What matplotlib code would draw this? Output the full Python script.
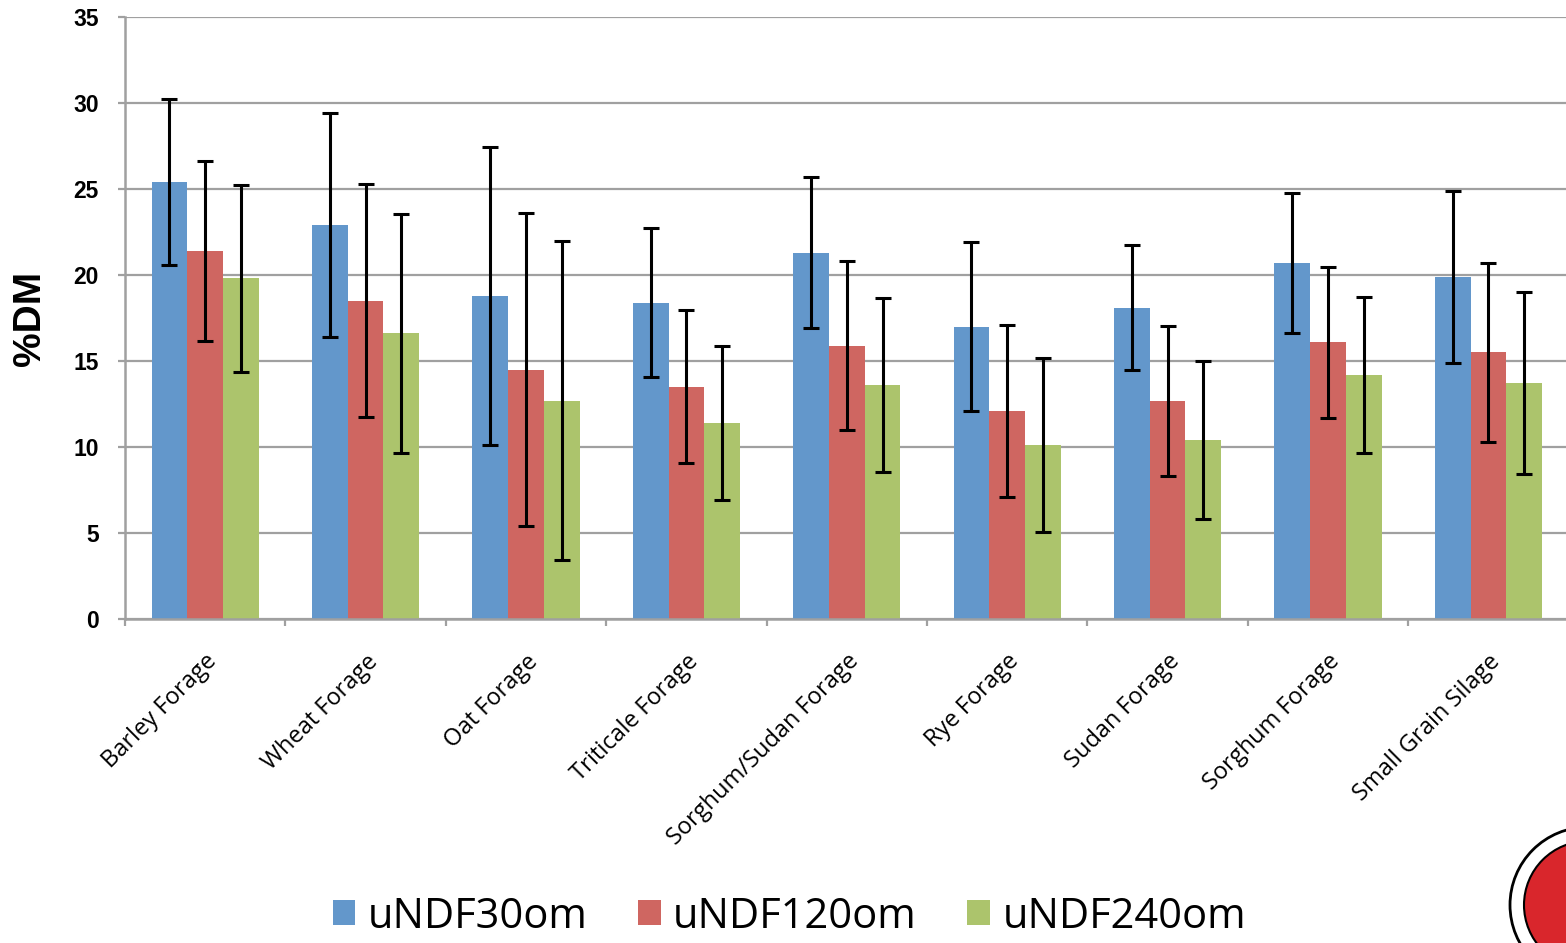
import matplotlib
matplotlib.use("Agg")
import matplotlib.pyplot as plt
import numpy as np
from matplotlib.patches import Patch, Ellipse

categories = ["Barley Forage", "Wheat Forage", "Oat Forage", "Triticale Forage",
              "Sorghum/Sudan Forage", "Rye Forage", "Sudan Forage",
              "Sorghum Forage", "Small Grain Silage"]
series_names = ["uNDF30om", "uNDF120om", "uNDF240om"]
undf30 = [25.4, 22.9, 18.8, 18.4, 21.3, 17.0, 18.1, 20.7, 19.9]
undf120 = [21.4, 18.5, 14.5, 13.5, 15.9, 12.1, 12.7, 16.1, 15.5]
undf240 = [19.8, 16.6, 12.7, 11.4, 13.6, 10.1, 10.4, 14.2, 13.7]
sd30 = [4.84, 6.52, 8.66, 4.32, 4.37, 4.91, 3.63, 4.05, 5.00]
sd120 = [5.22, 6.78, 9.08, 4.44, 4.94, 5.00, 4.36, 4.39, 5.19]
sd240 = [5.42, 6.92, 9.25, 4.50, 5.06, 5.05, 4.59, 4.55, 5.29]
yticks = [0, 5, 10, 15, 20, 25, 30, 35]

colors = ["#6397CB", "#CF6661", "#ACC46C"]

W, H = 1566, 943
fig = plt.figure(figsize=(W / 100, H / 100), dpi=100)
left_px, right_px, top_px, bot_px = 125, 125 + 9 * 160.4, 17, 619
ax = fig.add_axes([left_px / W, 1 - bot_px / H, (right_px - left_px) / W, (bot_px - top_px) / H])

x = np.arange(len(categories))
bw = 0.223
vals = [undf30, undf120, undf240]
sds = [sd30, sd120, sd240]
for i in range(3):
    ax.bar(x + (i - 1) * bw, vals[i], width=bw, color=colors[i], edgecolor="none", zorder=2)
    ax.errorbar(x + (i - 1) * bw, vals[i], yerr=sds[i], fmt="none", ecolor="black",
                elinewidth=2.2, capsize=6, capthick=2.2, zorder=3)

ax.set_xlim(-0.5, len(categories) - 0.5)
ax.set_ylim(0, 35)
ax.set_yticks(yticks)
ax.set_yticklabels([str(t) for t in yticks], fontsize=16.5, fontweight="bold",
                   family="Liberation Sans")
ax.yaxis.grid(True, color="#a0a0a0", linewidth=1.6, zorder=0)
ax.set_axisbelow(True)
for s in ["top", "right"]:
    ax.spines[s].set_visible(False)
for s in ["left", "bottom"]:
    ax.spines[s].set_color("#a0a0a0")
    ax.spines[s].set_linewidth(1.8)
ax.tick_params(axis="y", length=5, width=1.6, color="#a0a0a0", pad=14)

ax.set_xticks(x)
ax.set_xticklabels(categories, rotation=45, ha="right", rotation_mode="anchor",
                   fontsize=17, family="Open Sans")
ax.tick_params(axis="x", which="major", length=0, pad=22)
ax.set_xticks(np.arange(-0.5, len(categories), 1.0), minor=True)
ax.tick_params(axis="x", which="minor", length=5, width=1.6, color="#a0a0a0", direction="out")

ax.set_ylabel("%DM", fontsize=28, fontweight="bold", family="Liberation Sans", labelpad=18)

handles = [Patch(facecolor=c, edgecolor="none") for c in colors]
fig.legend(handles, series_names, loc="center", bbox_to_anchor=(0.504, 0.028),
           ncol=3, frameon=False, prop={"family": "Open Sans", "size": 30},
           handlelength=0.55, handleheight=0.55, handletextpad=0.3, columnspacing=1.2,
           borderaxespad=0, borderpad=0)

# partial logo in the bottom-right corner
cx, cy = 1588 / W, 1 - 905 / H
r_out, r_in = 78, 64
logo_outer = Ellipse((cx, cy), 2 * r_out / W, 2 * r_out / H, transform=fig.transFigure,
                     facecolor="white", edgecolor="black", linewidth=2)
logo_inner = Ellipse((cx, cy), 2 * r_in / W, 2 * r_in / H, transform=fig.transFigure,
                     facecolor="#d9262c", edgecolor="black", linewidth=1.5)
fig.patches.extend([logo_outer, logo_inner])

fig.savefig("out.png", dpi=100)
